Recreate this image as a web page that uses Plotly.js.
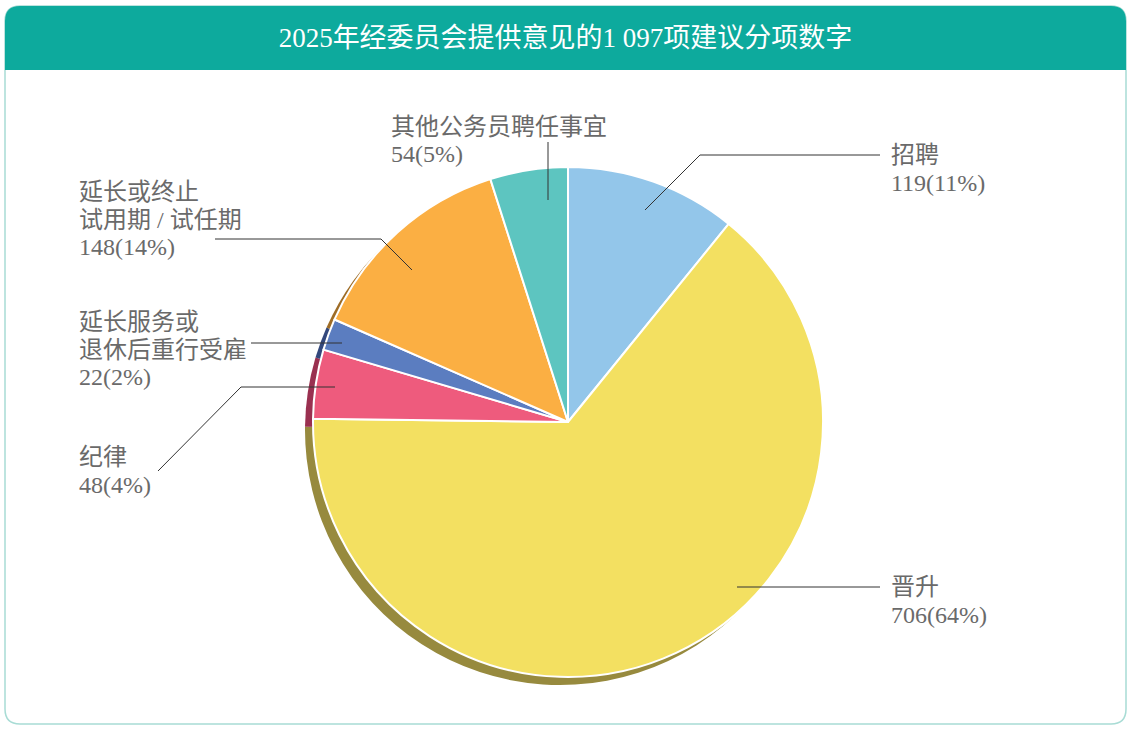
<!DOCTYPE html>
<html>
<head>
<meta charset="utf-8">
<script src="https://cdn.plot.ly/plotly-3.0.1.min.js"></script>
<style>
  html, body { margin: 0; padding: 0; background: #fff; }
  #chart { width: 1131px; height: 729px; }
</style>
</head>
<body>
<div id="chart"></div>
<script>
// data (total 1 097)
const categories = ['招聘', '晋升', '纪律', '延长服务或退休后重行受雇', '延长或终止试用期 / 试任期', '其他公务员聘任事宜'];
const counts = [119, 706, 48, 22, 148, 54];
const percents = ['11%', '64%', '4%', '2%', '14%', '5%'];
const labelLines = [['招聘'], ['晋升'], ['纪律'], ['延长服务或', '退休后重行受雇'], ['延长或终止', '试用期 / 试任期'], ['其他公务员聘任事宜']];

const sliceColors = ['#93C6EA', '#F3E061', '#EE5B7D', '#5B7DC0', '#FBAF43', '#5DC5C0'];
const shadowColors = ['#5f809a', '#978A3E', '#9A3050', '#33487C', '#9E6C26', '#3d807c'];

const W = 1131, H = 729;
const px = x => x / W;
const py = y => 1 - y / H;

// pie geometry in pixels
const cx = 568, cy = 422, r = 255;
const shadowDx = -8, shadowDy = 8;

// label block positions (left x, first line centre y) and leader line points, in pixels
const lineGap = 27.5;
const labelPos = [[889, 155], [889, 587], [77, 457], [77, 322], [77, 192], [389, 127]];
const leaderPts = [
    [[645, 210], [700, 155], [880, 155]],
    [[737, 587], [880, 587]],
    [[335, 387], [241, 387], [158, 471]],
    [[342, 343], [251, 343]],
    [[412, 270], [381, 239], [215, 239]],
    [[548, 200], [548, 142]]
];

function domainFor(dx, dy) {
    return {
        x: [px(cx - r + dx), px(cx + r + dx)],
        y: [py(cy + r + dy), py(cy - r + dy)]
    };
}

const shadowTrace = {
    type: 'pie',
    values: counts,
    labels: categories,
    sort: false,
    direction: 'clockwise',
    rotation: 0,
    textinfo: 'none',
    hoverinfo: 'skip',
    marker: { colors: shadowColors, line: { width: 0 } },
    domain: domainFor(shadowDx, shadowDy),
    showlegend: false
};

const mainTrace = {
    type: 'pie',
    values: counts,
    labels: categories,
    sort: false,
    direction: 'clockwise',
    rotation: 0,
    textinfo: 'none',
    hoverinfo: 'label+value+percent',
    marker: { colors: sliceColors, line: { color: '#ffffff', width: 2 } },
    domain: domainFor(0, 0),
    showlegend: false
};

// card background + teal header band, rounded with quadratic corners
const rad = 15;
function roundedRect(x0, y0, x1, y1, rt, rb) {
    return 'M' + px(x0 + rt) + ',' + py(y0) +
        ' L' + px(x1 - rt) + ',' + py(y0) +
        ' Q' + px(x1) + ',' + py(y0) + ' ' + px(x1) + ',' + py(y0 + rt) +
        ' L' + px(x1) + ',' + py(y1 - rb) +
        ' Q' + px(x1) + ',' + py(y1) + ' ' + px(x1 - rb) + ',' + py(y1) +
        ' L' + px(x0 + rb) + ',' + py(y1) +
        ' Q' + px(x0) + ',' + py(y1) + ' ' + px(x0) + ',' + py(y1 - rb) +
        ' L' + px(x0) + ',' + py(y0 + rt) +
        ' Q' + px(x0) + ',' + py(y0) + ' ' + px(x0 + rt) + ',' + py(y0) + ' Z';
}

let shapes = [
    {
        type: 'path', xref: 'paper', yref: 'paper', layer: 'below',
        path: roundedRect(5, 6, 1126, 724, rad, rad),
        fillcolor: '#ffffff', line: { color: '#A8DCD5', width: 1.5 }
    },
    {
        type: 'path', xref: 'paper', yref: 'paper', layer: 'below',
        path: roundedRect(5, 6, 1126, 70, rad, 0),
        fillcolor: '#0DAA9D', line: { width: 0 }
    }
];

for (let i = 0; i < leaderPts.length; i++) {
    let pts = leaderPts[i];
    let path = pts.map((p, k) => (k === 0 ? 'M' : 'L') + px(p[0]) + ',' + py(p[1])).join(' ');
    shapes.push({
        type: 'path', xref: 'paper', yref: 'paper', layer: 'above',
        path: path, line: { color: '#333333', width: 1 }
    });
}

const labelFont = { family: '"Liberation Serif", "Noto Sans CJK SC", serif', size: 24, color: '#6a6a6a' };

// one annotation per text line so the line spacing matches
let annotations = [];
for (let i = 0; i < categories.length; i++) {
    let lines = labelLines[i].concat([counts[i] + '(' + percents[i] + ')']);
    lines.forEach((t, k) => {
        annotations.push({
            xref: 'paper', yref: 'paper',
            x: px(labelPos[i][0]), y: py(labelPos[i][1] + k * lineGap),
            xanchor: 'left', yanchor: 'middle', align: 'left',
            showarrow: false, text: t, font: labelFont
        });
    });
}

const layout = {
    width: W,
    height: H,
    margin: { l: 0, r: 0, t: 0, b: 0 },
    paper_bgcolor: '#ffffff',
    title: {
        text: '2025年经委员会提供意见的1 097项建议分项数字',
        x: 0.5, xref: 'paper', xanchor: 'center',
        y: py(38), yref: 'paper', yanchor: 'middle',
        font: { family: '"Liberation Serif", "Noto Sans CJK SC", serif', size: 27, color: '#ffffff' }
    },
    shapes: shapes,
    annotations: annotations,
    showlegend: false
};

Plotly.newPlot('chart', [shadowTrace, mainTrace], layout, { displayModeBar: false });
</script>
</body>
</html>
